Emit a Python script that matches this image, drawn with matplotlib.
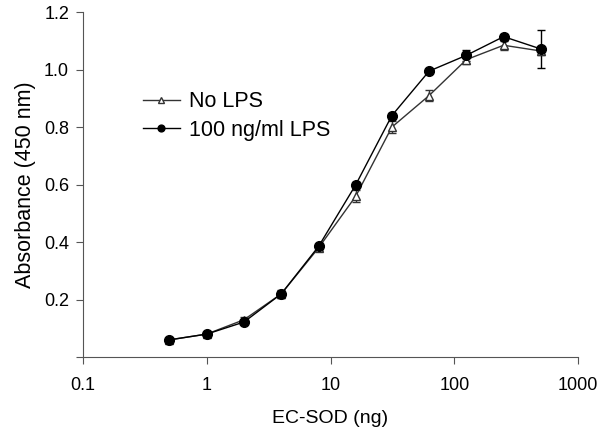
import matplotlib
matplotlib.use("Agg")
import matplotlib.pyplot as plt

plt.rcParams['font.family'] = ['Liberation Sans', 'DejaVu Sans']

# EC-SOD amount (ng)
ec_sod = [0.5, 1, 2, 4, 8, 16, 31.25, 62.5, 125, 250, 500]

no_lps = [0.06, 0.08, 0.13, 0.22, 0.38, 0.56, 0.80, 0.91, 1.035, 1.085, 1.065]
no_lps_err = [0.005, 0.006, 0.01, 0.015, 0.01, 0.02, 0.02, 0.02, 0.015, 0.015, 0.015]

lps = [0.06, 0.08, 0.122, 0.22, 0.385, 0.60, 0.84, 0.995, 1.05, 1.115, 1.072]
lps_err = [0.005, 0.005, 0.008, 0.01, 0.008, 0.01, 0.01, 0.008, 0.02, 0.008, 0.065]

fig = plt.figure(figsize=(6.01, 4.36), dpi=100)
ax = fig.add_axes([0.138, 0.181, 0.824, 0.791])

h1 = ax.errorbar(ec_sod, no_lps, yerr=no_lps_err, color='#333333', lw=1, marker='^',
                 markerfacecolor='white', markeredgecolor='#333333', markersize=6,
                 capsize=3, elinewidth=1, label='No LPS')
h2 = ax.errorbar(ec_sod, lps, yerr=lps_err, color='black', lw=1, marker='o',
                 markerfacecolor='black', markersize=7, capsize=3, elinewidth=1,
                 label='100 ng/ml LPS')

ax.set_xscale('log')
ax.set_xlim(0.1, 1000)
ax.set_ylim(0, 1.2)
ax.set_xticks([0.1, 1, 10, 100, 1000])
ax.set_xticklabels(['0.1', '1', '10', '100', '1000'])
ax.minorticks_off()
ax.set_yticks([0, 0.2, 0.4, 0.6, 0.8, 1.0, 1.2])
ax.set_yticklabels(['', '0.2', '0.4', '0.6', '0.8', '1.0', '1.2'])
ax.tick_params(labelsize=13, direction='out', length=5, color='#555555')
ax.tick_params(axis='x', pad=9)
ax.tick_params(axis='y', pad=5)

for side in ['top', 'right']:
    ax.spines[side].set_visible(False)
for side in ['left', 'bottom']:
    ax.spines[side].set_color('#555555')

ax.set_xlabel('EC-SOD (ng)', fontsize=14, labelpad=12)
ax.set_ylabel('Absorbance (450 nm)', fontsize=15.5, labelpad=6)

ax.legend([h1[0], h2[0]], ['No LPS', '100 ng/ml LPS'],
          loc='center left', bbox_to_anchor=(0.121, 0.699), frameon=False,
          borderpad=0, borderaxespad=0, fontsize=15.5, handlelength=1.72,
          handletextpad=0.42, labelspacing=0.35, markerscale=0.7)

fig.savefig('out.png', dpi=100)
